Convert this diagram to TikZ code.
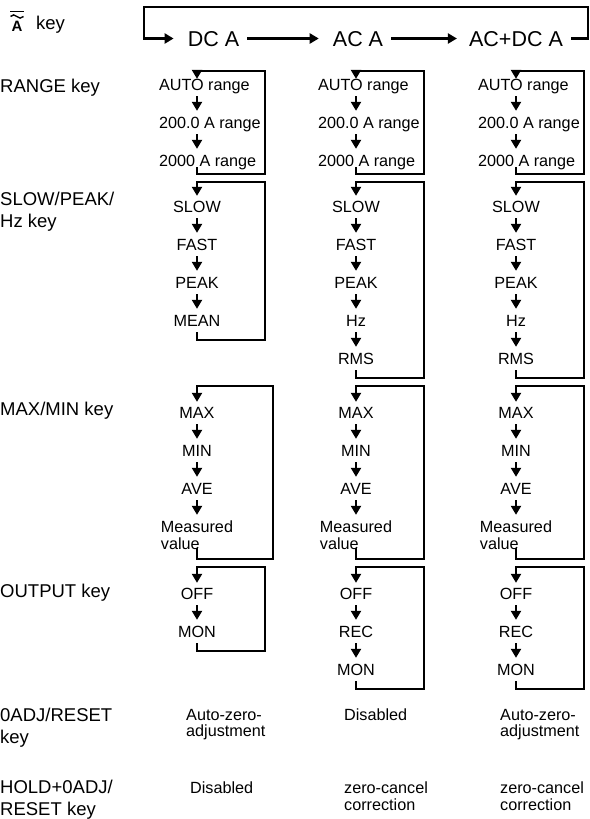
\documentclass[tikz,border=0pt]{standalone}
\usepackage{fontspec}
\setmainfont{Liberation Sans}
\usetikzlibrary{arrows.meta}

\newcommand{\rng}[1]{\makebox[76pt][l]{#1}}
\newcommand{\mval}{\vtop{\hbox{Measured}\hbox{value}}}
% one key cycle: [loop options]{name}{x}{loop top}{first item}{loop bottom}{loop right}{items}
\newcommand{\modeloop}[8][]{%
  \foreach \txt [count=\idx] in {#8}{
    \node[item] (#2-\idx) at (#3,#5+38*\idx-38) {\txt};
    \ifnum\idx>1
      \pgfmathtruncatemacro\prevx{\idx-1}
      \draw[arrow] (#2-\prevx) -- (#2-\idx);
    \fi
    \xdef\lastidx{\idx}
  }
  \coordinate (#2-top) at (#3,#4);
  \coordinate (#2-bot) at (#7,#6);
  \draw[cycleline, #1] (#2-\lastidx) |- (#2-bot) |- (#2-top) -- (#2-1);
}

\begin{document}
\begin{tikzpicture}[
    x=1pt, y=-1pt,
    lbl/.style={font=\fontsize{18.5}{22}\selectfont, inner sep=0, anchor=north west, align=left},
    mode/.style={font=\fontsize{21.5}{24}\selectfont, inner xsep=8pt, inner ysep=0, text height=15.5pt, text depth=0pt},
    item/.style={font=\fontsize{16.2}{16.5}\selectfont, inner sep=0, text height=11.5pt, text depth=0pt, minimum height=22pt},
    note/.style={font=\fontsize{16.2}{16.5}\selectfont, inner sep=0, anchor=north west, align=left},
    arrow/.style={-{Triangle[width=10pt,length=9pt]}, line width=2.2pt, shorten >=1pt},
    cycleline/.style={-{Triangle[width=10pt,length=9pt]}, line width=2.2pt}
]
    \useasboundingbox (0,0) rectangle (589,819);

    % row labels
    \node[font=\fontsize{15}{15}\selectfont\bfseries, inner sep=0, anchor=base] (acsym) at (17,31) {A};
    \draw[line width=1.6pt] (10,11.5) -- (24,11.5);
    \draw[line width=1.4pt] (10.5,16.5) sin (13.7,14.9) cos (16.9,16.5) sin (20.1,18.1) cos (23.5,16.5);
    \node[lbl] (lkey) at (36,16) {key};
    \node[lbl] (lrange) at (0,78.5) {RANGE key};
    \node[lbl] (lslow) at (0,191.5) {SLOW/PEAK/\\Hz key};
    \node[lbl] (lmax) at (0,401.5) {MAX/MIN key};
    \node[lbl] (lout) at (0,583.5) {OUTPUT key};
    \node[lbl] (lzero) at (0,707.5) {0ADJ/RESET\\key};
    \node[lbl] (lhold) at (0,779.5) {HOLD+0ADJ/\\RESET key};

    % function modes
    \node[mode] (dc) at (213.5,38.5) {DC A};
    \node[mode] (ac) at (358,38.5) {AC A};
    \node[mode] (acdc) at (516,38.5) {AC+DC A};
    \coordinate (wrapR) at (588,7);
    \coordinate (wrapL) at (144,38.5);
    \draw[arrow, shorten >=6pt] (dc) -- (ac);
    \draw[arrow, shorten >=4pt] (ac) -- (acdc);
    \draw[arrow, shorten >=6pt] (acdc) -| (wrapR) -| (wrapL) |- (dc);

    % RANGE
    \modeloop[shorten >=-5pt, shorten <=-5pt]{r1}{197}{71}{85}{174}{265}{\rng{AUTO range},\rng{200.0 A range},\rng{2000 A range}}
    \modeloop[shorten >=-5pt, shorten <=-5pt]{r2}{356}{71}{85}{174}{424}{\rng{AUTO range},\rng{200.0 A range},\rng{2000 A range}}
    \modeloop[shorten >=-5pt, shorten <=-5pt]{r3}{516}{71}{85}{174}{584}{\rng{AUTO range},\rng{200.0 A range},\rng{2000 A range}}

    % SLOW/PEAK/Hz
    \modeloop{s1}{197}{182}{207}{340}{265}{SLOW,FAST,PEAK,MEAN}
    \modeloop{s2}{356}{182}{207}{378}{424}{SLOW,FAST,PEAK,Hz,RMS}
    \modeloop{s3}{516}{182}{207}{378}{584}{SLOW,FAST,PEAK,Hz,RMS}

    % MAX/MIN
    \modeloop[shorten <=10pt]{m1}{197}{386}{413}{559}{273}{MAX,MIN,AVE,\mval}
    \modeloop[shorten <=10pt]{m2}{356}{386}{413}{559}{424}{MAX,MIN,AVE,\mval}
    \modeloop[shorten <=10pt]{m3}{516}{386}{413}{559}{584}{MAX,MIN,AVE,\mval}

    % OUTPUT
    \modeloop{o1}{197}{567}{594}{651}{265}{OFF,MON}
    \modeloop{o2}{356}{567}{594}{689}{424}{OFF,REC,MON}
    \modeloop{o3}{516}{567}{594}{689}{584}{OFF,REC,MON}

    % 0ADJ/RESET and HOLD+0ADJ/RESET
    \node[note] (z1) at (186,709) {Auto-zero-\\adjustment};
    \node[note] (z2) at (344,709) {Disabled};
    \node[note] (z3) at (500,709) {Auto-zero-\\adjustment};
    \node[note] (h1) at (190,782) {Disabled};
    \node[note] (h2) at (344,782) {zero-cancel\\correction};
    \node[note] (h3) at (500,782) {zero-cancel\\correction};
\end{tikzpicture}
\end{document}
